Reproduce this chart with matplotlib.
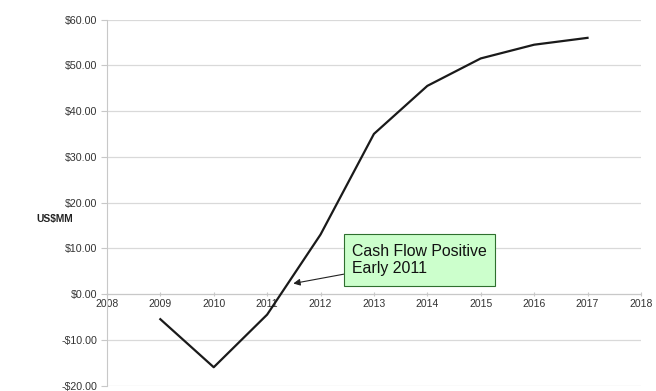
"""Cash flow projection chart"""

import matplotlib
matplotlib.use('Agg')
import matplotlib.pyplot as plt
from matplotlib.path import Path

# Data
years = [2009, 2010, 2011, 2012, 2013, 2014, 2015, 2016, 2017]
cash_flow = [-5.5, -16.0, -4.5, 13.0, 35.0, 45.5, 51.5, 54.5, 56.0]
x_ticks = list(range(2008, 2019))
y_ticks = [-20, -10, 0, 10, 20, 30, 40, 50, 60]
note_text = 'Cash Flow Positive\nEarly 2011'
note_point = (2011.49, 2.3)

plt.rcParams['font.family'] = ['Liberation Sans', 'DejaVu Sans']


def note_box(x0, y0, width, height, mutation_size):
    """Square box with more padding top/bottom than left/right"""
    px = 0.5 * mutation_size
    py = 0.62 * mutation_size
    verts = [(x0 - px, y0 - py), (x0 + width + px, y0 - py),
             (x0 + width + px, y0 + height + py), (x0 - px, y0 + height + py),
             (x0 - px, y0 - py)]
    return Path(verts, closed=True)


fig = plt.figure(figsize=(6.56, 3.91), dpi=100)
ax = fig.add_axes([0.163, 0.014, 0.814, 0.936])

# Main line
ax.plot(years, cash_flow, color='#1a1a1a', linewidth=1.6, zorder=3)

ax.set_xlim(2008, 2018)
ax.set_ylim(-20, 60)
ax.set_xticks(x_ticks)
ax.set_yticks(y_ticks)
ax.set_yticklabels([('-$%.2f' % -v) if v < 0 else ('$%.2f' % v) for v in y_ticks])

# Gridlines
ax.grid(True, axis='y', color='#d9d9d9', linewidth=0.9)
ax.set_axisbelow(True)

# Excel style axes: x axis crosses at zero
for side in ['top', 'right']:
    ax.spines[side].set_visible(False)
ax.spines['bottom'].set_position(('data', 0))
ax.spines['bottom'].set_color('#c8c8c8')
ax.spines['left'].set_color('#c8c8c8')
ax.tick_params(axis='x', direction='inout', length=3, color='#c8c8c8',
               labelsize=7.5, labelcolor='#333333', pad=2)
ax.tick_params(axis='y', direction='out', length=4, color='#c8c8c8',
               labelsize=7.7, labelcolor='#333333', pad=3)

# Axis title
ax.text(-0.097, 0.455, 'US$MM', transform=ax.transAxes, fontsize=7.4,
        fontweight='bold', color='#222222', ha='center', va='center')

# Annotation
ax.annotate(note_text, xy=note_point, xytext=(2012.59, 7.4),
            ha='left', va='center', fontsize=11.4, color='#111111',
            linespacing=1.22,
            bbox=dict(boxstyle=note_box, facecolor='#ccffcc',
                      edgecolor='#2f6f2f', linewidth=0.8),
            arrowprops=dict(arrowstyle='-|>', color='#222222', lw=0.8,
                            mutation_scale=10, shrinkA=0, shrinkB=0))

fig.savefig('out.png', dpi=100)
